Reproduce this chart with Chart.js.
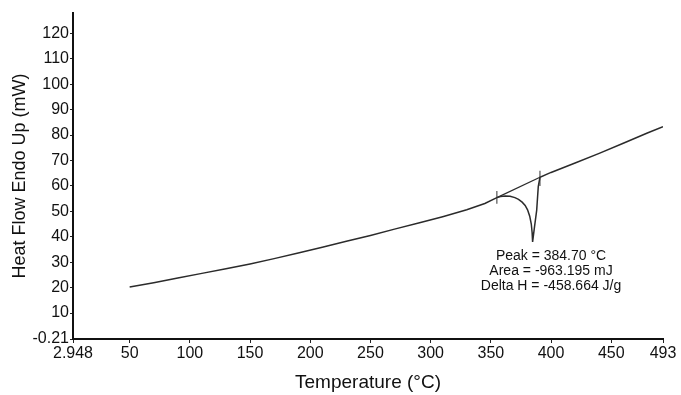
<!DOCTYPE html>
<html>
<head>
<meta charset="utf-8">
<script src="https://cdn.jsdelivr.net/npm/chart.js@4.4.1/dist/chart.umd.min.js"></script>
<style>
  html, body { margin: 0; padding: 0; background: #fff; }
</style>
</head>
<body>
<canvas id="dscChart" width="681" height="395"></canvas>
<script>
// DSC scan values
const tempC = [50, 70, 90, 110, 130, 150, 170, 190, 210, 230, 250, 270, 290, 310, 330, 345, 355,
  358, 362, 366, 370, 373, 376, 378.5, 380.5, 382.3, 383.6, 384.3, 384.7,
  386.3, 388.1, 389.4, 390.8,
  400, 420, 440, 460, 480, 493];
const heatFlow = [20.2, 21.9, 23.8, 25.6, 27.4, 29.3, 31.4, 33.6, 35.9, 38.2, 40.5, 43.0, 45.4, 47.9, 50.6, 53.1, 55.4,
  55.8, 56.0, 55.9, 55.4, 54.7, 53.6, 52.3, 50.6, 48.1, 45.0, 41.6, 38.0,
  44.0, 50.5, 59.7, 63.4,
  65.3, 69.0, 72.8, 76.8, 80.8, 83.3];

// integration baseline and its limit marks
const baselineT = [355, 390.8];
const baselineHF = [55.4, 63.4];
const startMarkT = [355, 355];
const startMarkHF = [53.0, 58.0];
const endMarkT = [390.8, 390.8];
const endMarkHF = [60.0, 66.0];

const xTicks = [2.948, 50, 100, 150, 200, 250, 300, 350, 400, 450, 493];
const yTicks = [-0.21, 10, 20, 30, 40, 50, 60, 70, 80, 90, 100, 110, 120];

const peakNotes = ['Peak = 384.70 °C', 'Area = -963.195 mJ', 'Delta H = -458.664 J/g'];

const FONT = '"Liberation Sans", Arial, sans-serif';

function toPoints(xs, ys) {
  return xs.map((x, i) => ({ x: x, y: ys[i] }));
}

const notesPlugin = {
  id: 'peakNotes',
  afterDatasetsDraw(chart) {
    const { ctx, scales } = chart;
    const cx = scales.x.getPixelForValue(400);
    const top = scales.y.getPixelForValue(32.4);
    ctx.save();
    ctx.fillStyle = '#111';
    ctx.font = '14px ' + FONT;
    ctx.textAlign = 'center';
    ctx.textBaseline = 'middle';
    peakNotes.forEach((t, i) => ctx.fillText(t, cx, top + i * 15));
    ctx.restore();
  }
};

const lineStyle = { borderColor: '#2b2b2b', borderWidth: 1.5, pointRadius: 0, fill: false, showLine: true, tension: 0 };

new Chart(document.getElementById('dscChart').getContext('2d'), {
  type: 'scatter',
  data: {
    datasets: [
      Object.assign({ label: 'Heat flow', data: toPoints(tempC, heatFlow) }, lineStyle),
      Object.assign({ label: 'Baseline', data: toPoints(baselineT, baselineHF) }, lineStyle, { borderWidth: 1.2 }),
      Object.assign({ label: 'Start', data: toPoints(startMarkT, startMarkHF) }, lineStyle, { borderWidth: 1.2, borderColor: '#555' }),
      Object.assign({ label: 'End', data: toPoints(endMarkT, endMarkHF) }, lineStyle, { borderWidth: 1.2, borderColor: '#555' })
    ]
  },
  options: {
    responsive: false,
    animation: false,
    devicePixelRatio: 1,
    layout: { padding: { top: 13, right: 18, left: 0, bottom: 0 } },
    plugins: {
      legend: { display: false },
      tooltip: { enabled: false }
    },
    scales: {
      x: {
        type: 'linear',
        min: 2.948,
        max: 493,
        afterBuildTicks: s => { s.ticks = xTicks.map(v => ({ value: v })); },
        afterFit: s => { s.height = 56; },
        ticks: {
          autoSkip: false,
          maxRotation: 0,
          padding: 1,
          color: '#111',
          font: { family: FONT, size: 16 },
          callback: v => String(v)
        },
        grid: { display: true, drawOnChartArea: false, tickLength: 4, color: '#222' },
        border: { color: '#111', width: 2 },
        title: {
          display: true,
          text: 'Temperature (°C)',
          color: '#111',
          font: { family: FONT, size: 19 },
          padding: { top: 0, bottom: 1 }
        }
      },
      y: {
        type: 'linear',
        min: -0.21,
        max: 128,
        afterBuildTicks: s => { s.ticks = yTicks.map(v => ({ value: v })); },
        afterFit: s => { s.width = 73; },
        ticks: {
          autoSkip: false,
          padding: 1,
          color: '#111',
          font: { family: FONT, size: 16 },
          callback: v => String(v)
        },
        grid: { display: true, drawOnChartArea: false, tickLength: 3, color: '#222' },
        border: { color: '#111', width: 2 },
        title: {
          display: true,
          text: 'Heat Flow Endo Up (mW)',
          color: '#111',
          font: { family: FONT, size: 18 },
          padding: { top: 9, bottom: 0 }
        }
      }
    }
  },
  plugins: [notesPlugin]
});
</script>
</body>
</html>
